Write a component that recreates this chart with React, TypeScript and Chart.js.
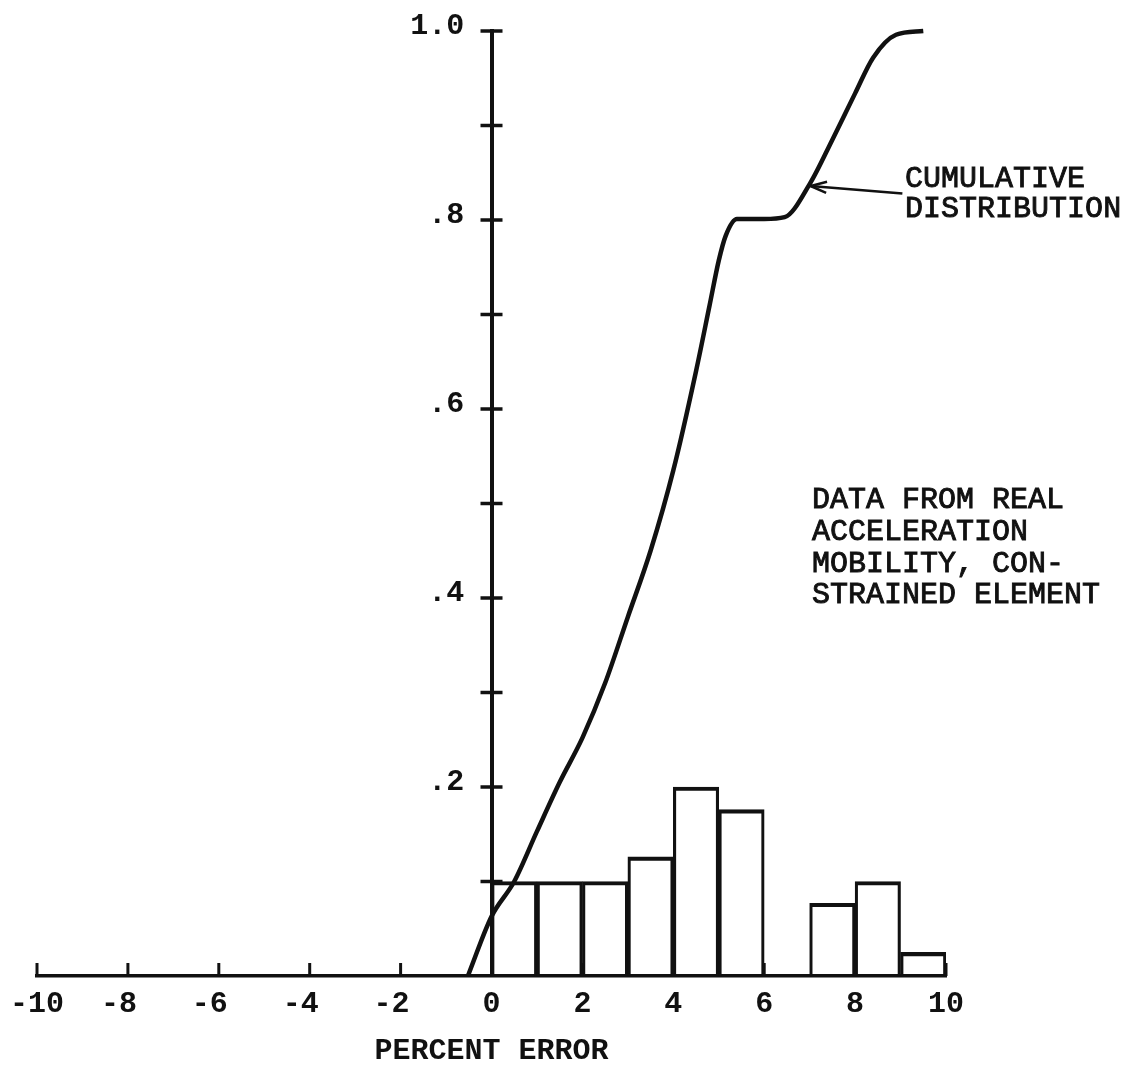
import React, { useEffect, useRef } from 'react';
import { Chart, registerables } from 'chart.js';

Chart.register(...registerables);

// ---- data ----
const xTickValues = [-10, -8, -6, -4, -2, 0, 2, 4, 6, 8, 10];
const xTickLabels = ['-10', '-8 ', '-6 ', '-4 ', '-2 ', '0', '2', '4', '6', '8', '10'];
const yTickValues = [0, 0.2, 0.4, 0.6, 0.8, 1.0];
const yTickLabels = ['', '.2', '.4', '.6', '.8', '1.0'];
const yMinorTicks = [0.1, 0.2, 0.3, 0.4, 0.5, 0.6, 0.7, 0.8, 0.9, 1.0];
const xMinorTicks = [-10, -8, -6, -4, -2, 2, 4, 6, 8, 10];

const binCenters = [0.5, 1.5, 2.5, 3.5, 4.5, 5.5, 7.5, 8.5, 9.5];
const binHeights = [0.1, 0.1, 0.1, 0.126, 0.2, 0.176, 0.077, 0.1, 0.025];

const cumX = [-0.52, 0, 0.5, 1.0, 1.5, 2.0, 2.5, 3.0, 3.5, 4.0, 4.5, 4.8, 5.0, 5.15, 5.4, 6.0, 6.45, 7.0, 7.5, 8.0, 8.4, 8.9, 9.5];
const cumY = [0, 0.063, 0.1, 0.153, 0.205, 0.252, 0.31, 0.38, 0.45, 0.535, 0.64, 0.71, 0.757, 0.783, 0.801, 0.801, 0.803, 0.838, 0.885, 0.934, 0.972, 0.996, 1.0];

const xTitle = 'PERCENT ERROR';
const curveLabel = ['CUMULATIVE', 'DISTRIBUTION'];
const noteLines = ['DATA FROM REAL', 'ACCELERATION', 'MOBILITY, CON-', 'STRAINED ELEMENT'];

const FONT = '"Liberation Mono", "Courier New", monospace';
const INK = '#111';

const decorPlugin = {
  id: 'decor',
  afterDatasetsDraw(chart: any) {
    const { ctx, scales } = chart;
    const xs = scales.x;
    const ys = scales.y;
    const x0 = xs.getPixelForValue(0);
    const yb = ys.getPixelForValue(0);
    ctx.save();
    ctx.strokeStyle = INK;
    ctx.lineCap = 'butt';
    // y axis cross ticks
    ctx.lineWidth = 3.5;
    yMinorTicks.forEach((v) => {
      const py = ys.getPixelForValue(v);
      ctx.beginPath();
      ctx.moveTo(x0 - 11, py);
      ctx.lineTo(x0 + 11, py);
      ctx.stroke();
    });
    // x axis upward ticks
    ctx.lineWidth = 3;
    xMinorTicks.forEach((v) => {
      const px = xs.getPixelForValue(v);
      ctx.beginPath();
      ctx.moveTo(px, yb);
      ctx.lineTo(px, yb - 13);
      ctx.stroke();
    });

    // arrow for cumulative distribution
    const hx = xs.getPixelForValue(7.02);
    const hy = ys.getPixelForValue(0.836);
    const tx = xs.getPixelForValue(9.04);
    const ty = ys.getPixelForValue(0.828);
    ctx.lineWidth = 2.5;
    ctx.beginPath();
    ctx.moveTo(tx, ty);
    ctx.lineTo(hx, hy);
    ctx.stroke();
    const ang = Math.atan2(ty - hy, tx - hx);
    const L = 17;
    ctx.beginPath();
    ctx.moveTo(hx + L * Math.cos(ang - 0.33), hy + L * Math.sin(ang - 0.33));
    ctx.lineTo(hx, hy);
    ctx.lineTo(hx + L * Math.cos(ang + 0.33), hy + L * Math.sin(ang + 0.33));
    ctx.stroke();

    // annotation text
    ctx.fillStyle = INK;
    ctx.textAlign = 'left';
    ctx.textBaseline = 'alphabetic';
    ctx.font = `30px ${FONT}`;
    ctx.lineWidth = 0.9;
    const drawLines = (lines: string[], left: number, firstBase: number, step: number) => {
      lines.forEach((t, i) => {
        ctx.fillText(t, left, firstBase + i * step);
        ctx.strokeText(t, left, firstBase + i * step);
      });
    };
    drawLines(curveLabel, xs.getPixelForValue(9.1), ys.getPixelForValue(0.835), 30);
    drawLines(noteLines, xs.getPixelForValue(7.05), ys.getPixelForValue(0.495), 31.7);
    ctx.restore();
  },
};

export default function App() {
  const ref = useRef<HTMLCanvasElement | null>(null);

  useEffect(() => {
    if (!ref.current) return;
    const yLabelFormat = (v: any) => {
      const i = yTickValues.findIndex((t) => Math.abs(t - Number(v)) < 1e-6);
      return i >= 0 ? yTickLabels[i] : '';
    };
    const setYTicks = (s: any) => {
      s.ticks = yTickValues.map((v) => ({ value: v }));
    };
    const chart = new Chart(ref.current, {
      type: 'line',
      data: {
        datasets: [
          {
            type: 'line',
            label: 'Cumulative distribution',
            data: cumX.map((x, i) => ({ x, y: cumY[i] })),
            borderColor: INK,
            borderWidth: 4.5,
            pointRadius: 0,
            fill: false,
            cubicInterpolationMode: 'monotone',
            clip: false,
            order: 1,
          } as any,
          {
            type: 'bar',
            label: 'Frequency',
            data: binCenters.map((x, i) => ({ x, y: binHeights[i] })),
            backgroundColor: 'rgba(0,0,0,0)',
            borderColor: INK,
            borderWidth: { top: 3.5, left: 2.5, right: 2.5, bottom: 0 },
            borderSkipped: 'start',
            barPercentage: 1,
            categoryPercentage: 1,
            order: 2,
          } as any,
        ],
      },
      options: {
        animation: false,
        responsive: false,
        maintainAspectRatio: false,
        layout: { padding: { left: 37, right: 181, top: 31, bottom: 0 } },
        plugins: {
          legend: { display: false },
          tooltip: { enabled: false },
        },
        scales: {
          x: {
            type: 'linear',
            min: -10,
            max: 10,
            offset: false,
            afterBuildTicks: (s: any) => {
              s.ticks = xTickValues.map((v) => ({ value: v }));
            },
            afterFit: (s: any) => {
              s.height = 90;
            },
            grid: { display: false, drawTicks: false },
            border: { display: true, color: INK, width: 3.5 },
            ticks: {
              color: INK,
              padding: 10,
              maxRotation: 0,
              autoSkip: false,
              font: { family: FONT, size: 30, weight: 'bold' },
              callback: (v: any) => {
                const i = xTickValues.indexOf(Number(v));
                return i >= 0 ? xTickLabels[i] : '';
              },
            },
            title: {
              display: true,
              text: xTitle,
              color: INK,
              font: { family: FONT, size: 30, weight: 'bold', lineHeight: 1 },
              padding: { top: 0, bottom: 0 },
            },
          },
          y: {
            type: 'linear',
            min: 0,
            max: 1,
            position: { x: 0 } as any,
            afterBuildTicks: setYTicks,
            grid: { display: false, drawTicks: false },
            border: { display: true, color: INK, width: 4 },
            ticks: { display: false },
          },
          yLabels: {
            type: 'linear',
            min: 0,
            max: 1,
            position: { x: -0.6 } as any,
            afterBuildTicks: setYTicks,
            grid: { display: false, drawTicks: false },
            border: { display: false },
            ticks: {
              color: INK,
              padding: 0,
              labelOffset: -5,
              font: { family: FONT, size: 30, weight: 'bold' },
              callback: yLabelFormat,
            },
          },
        },
      } as any,
      plugins: [decorPlugin],
    });
    return () => chart.destroy();
  }, []);

  return (
    <div style={{ position: 'absolute', left: 0, top: 0, width: 1127, height: 1066, background: '#fff' }}>
      <canvas ref={ref} width={1127} height={1066} />
    </div>
  );
}
